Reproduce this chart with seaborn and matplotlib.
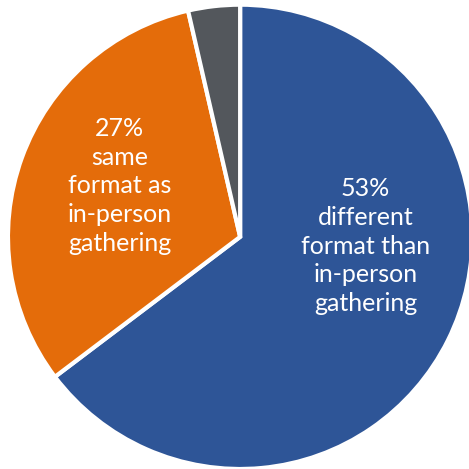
import matplotlib
matplotlib.use("Agg")
import matplotlib.pyplot as plt
import seaborn as sns

# ── Data ───────────────────────────────────────────────────────────────
categories = ["different format than in-person gathering",
              "same format as in-person gathering",
              "other"]
shares = [64.7, 31.7, 3.6]          # share of the circle each wedge covers
pct_labels = ["53%", "27%", ""]
label_text = ["different\nformat than\nin-person\ngathering",
              "same\nformat as\nin-person\ngathering",
              ""]
colors = ["#2E5597", "#E46C0A", "#53575C"]

# ── Style ──────────────────────────────────────────────────────────────
sns.set_theme(style="white")
plt.rcParams["font.family"] = ["Lato", "DejaVu Sans"]

fig = plt.figure(figsize=(4.69, 4.69), dpi=100)
ax = fig.add_axes([0.017, 0.0, 0.99, 0.99])

wedges, _ = ax.pie(shares, colors=colors, startangle=90, counterclock=False,
                   wedgeprops={"edgecolor": "white", "linewidth": 3})
ax.set_xlim(-1, 1)
ax.set_ylim(-1, 1)
ax.set_aspect("equal")

# wedge labels
ax.text(0.54, -0.04, pct_labels[0] + "\n" + label_text[0], ha="center", va="center",
        color="white", fontsize=18, linespacing=1.3)
ax.text(-0.52, 0.22, pct_labels[1] + "\n" + label_text[1], ha="center", va="center",
        color="white", fontsize=18, linespacing=1.3)

fig.savefig("out.png", dpi=100, facecolor="white")
